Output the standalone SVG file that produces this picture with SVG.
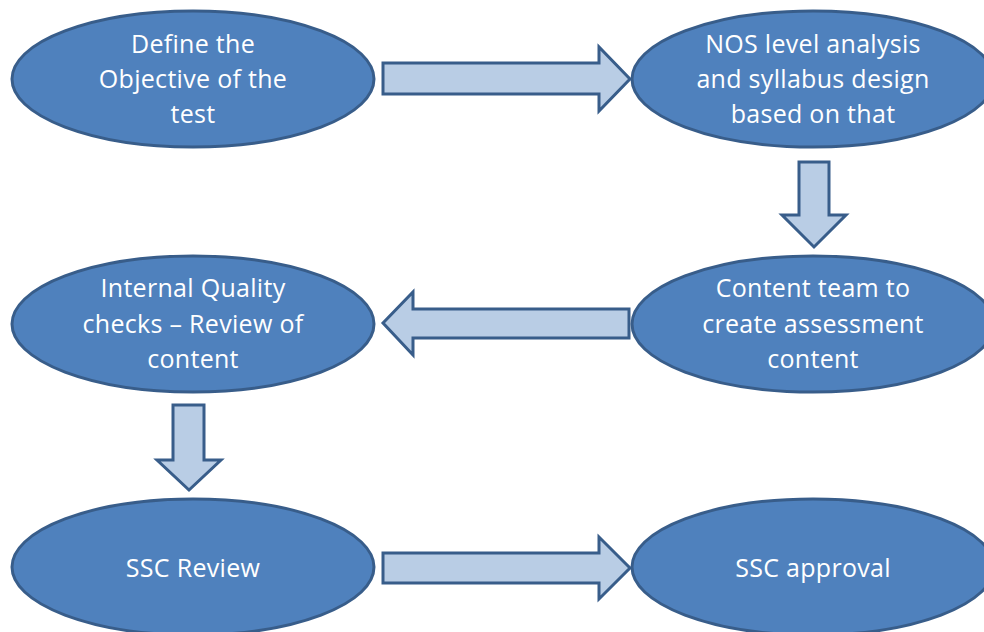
<svg xmlns="http://www.w3.org/2000/svg" width="984" height="632" viewBox="0 0 984 632">
<style>
.node{fill:#4F81BD;stroke:#385D8A;stroke-width:3}
.arr{fill:#B9CDE5;stroke:#385D8A;stroke-width:3;stroke-linejoin:miter}
.t{fill:#FFFFFF;font-family:"Open Sans","Liberation Sans",sans-serif;font-size:25px;text-anchor:middle;letter-spacing:0.3px}
</style>
<rect width="984" height="632" fill="#FFFFFF"/>
<g id="connectors">
<path class="arr" d="M383,63 L599,63 L599,47 L630,79 L599,111 L599,94 L383,94 Z"/>
<path class="arr" d="M799,162 L829,162 L829,215 L846,215 L814,247 L782,215 L799,215 Z"/>
<path class="arr" d="M629,309 L413,309 L413,292 L383,323 L413,355 L413,338 L629,338 Z"/>
<path class="arr" d="M173,405 L204,405 L204,460 L221,460 L189,490 L157,460 L173,460 Z"/>
<path class="arr" d="M383,553 L599,553 L599,537 L630,568 L599,599 L599,583 L383,583 Z"/>
</g>
<g id="n1">
<ellipse class="node" cx="193" cy="79" rx="181" ry="68"/>
<text class="t" x="193" y="53">Define the</text>
<text class="t" x="193" y="88">Objective of the</text>
<text class="t" x="193" y="123">test</text>
</g>
<g id="n2">
<ellipse class="node" cx="813" cy="79" rx="181" ry="68"/>
<text class="t" x="813" y="53">NOS level analysis</text>
<text class="t" x="813" y="88">and syllabus design</text>
<text class="t" x="813" y="123">based on that</text>
</g>
<g id="n3">
<ellipse class="node" cx="193" cy="324" rx="181" ry="68"/>
<text class="t" x="193" y="297">Internal Quality</text>
<text class="t" x="193" y="333">checks – Review of</text>
<text class="t" x="193" y="368">content</text>
</g>
<g id="n4">
<ellipse class="node" cx="813" cy="324" rx="181" ry="68"/>
<text class="t" x="813" y="297">Content team to</text>
<text class="t" x="813" y="333">create assessment</text>
<text class="t" x="813" y="368">content</text>
</g>
<g id="n5">
<ellipse class="node" cx="193" cy="567" rx="181" ry="68"/>
<text class="t" x="193" y="577">SSC Review</text>
</g>
<g id="n6">
<ellipse class="node" cx="813" cy="567" rx="181" ry="68"/>
<text class="t" x="813" y="577">SSC approval</text>
</g>
</svg>
